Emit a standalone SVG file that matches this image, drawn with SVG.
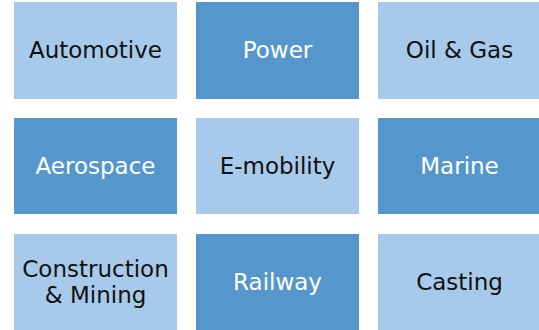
<svg xmlns="http://www.w3.org/2000/svg" width="539" height="330" viewBox="0 0 539 330">
<style>
.light{fill:#A7CAEA}
.dark{fill:#5597CD}
text{font-family:"DejaVu Sans","Liberation Sans",sans-serif;font-size:23px;text-anchor:middle}
.tl{fill:#111111}
.td{fill:#FFFFFF}
</style>
<rect width="539" height="330" fill="#FFFFFF"/>
<g id="automotive"><rect class="light" x="14" y="2" width="163" height="97"/><text class="tl" x="95.5" y="58">Automotive</text></g>
<g id="power"><rect class="dark" x="196" y="2" width="163" height="97"/><text class="td" x="277.5" y="58">Power</text></g>
<g id="oil-gas"><rect class="light" x="378" y="2" width="161" height="97"/><text class="tl" x="459.5" y="58">Oil &amp; Gas</text></g>
<g id="aerospace"><rect class="dark" x="14" y="118" width="163" height="96"/><text class="td" x="95.5" y="174">Aerospace</text></g>
<g id="e-mobility"><rect class="light" x="196" y="118" width="163" height="96"/><text class="tl" x="277.5" y="174">E-mobility</text></g>
<g id="marine"><rect class="dark" x="378" y="118" width="161" height="96"/><text class="td" x="459.5" y="174">Marine</text></g>
<g id="construction-mining"><rect class="light" x="14" y="234" width="163" height="96"/><text class="tl" x="95.5" y="277">Construction</text><text class="tl" x="95.5" y="303">&amp; Mining</text></g>
<g id="railway"><rect class="dark" x="196" y="234" width="163" height="96"/><text class="td" x="277.5" y="290">Railway</text></g>
<g id="casting"><rect class="light" x="378" y="234" width="161" height="96"/><text class="tl" x="459.5" y="290">Casting</text></g>
<g id="connectors"/>
</svg>
